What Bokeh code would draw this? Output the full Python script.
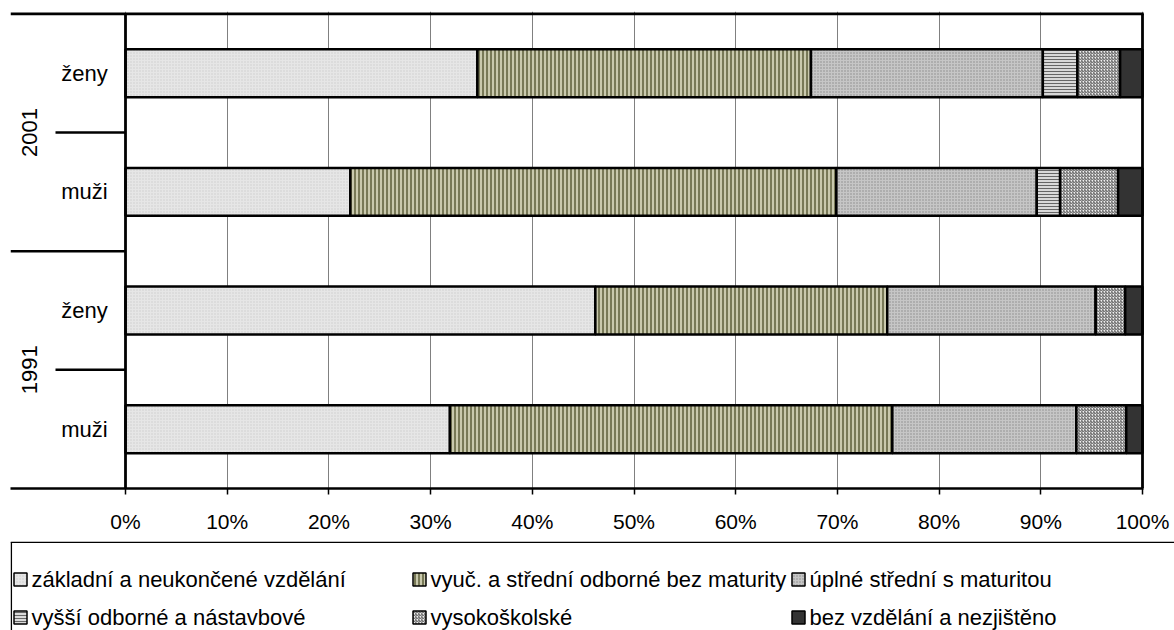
from bokeh.plotting import figure
from bokeh.layouts import column
from bokeh.models import Range1d, FixedTicker, PrintfTickFormatter
from bokeh.core.properties import value
from bokeh.embed import file_html
from bokeh.resources import INLINE
import math

# ---------------- data ----------------
rows = ["1991 muži", "1991 ženy", "2001 muži", "2001 ženy"]
row_sex = ["muži", "ženy", "muži", "ženy"]
years = ["1991", "2001"]
categories = ["základní a neukončené vzdělání",
              "vyuč. a střední odborné bez maturity",
              "úplné střední s maturitou",
              "vyšší odborné a nástavbové",
              "vysokoškolské",
              "bez vzdělání a nezjištěno"]
zakladni = [31.9, 46.2, 22.1, 34.6]
vyuc = [43.5, 28.7, 47.8, 32.8]
uplne = [18.1, 20.5, 19.7, 22.8]
vyssi = [0.0, 0.0, 2.3, 3.4]
vysokoskolske = [4.9, 2.9, 5.7, 4.2]
bez = [1.6, 1.7, 2.4, 2.2]
series = [zakladni, vyuc, uplne, vyssi, vysokoskolske, bez]
tick_values = list(range(0, 101, 10))

# ---------------- styles ----------------
styles = [
    dict(fill_color="#e6e6e6", hatch_pattern="dot", hatch_color="#cdcdcd", hatch_scale=3, hatch_weight=1),
    dict(fill_color="#c9c9ad", hatch_pattern="vertical_line", hatch_color="#5d5f3a", hatch_scale=4, hatch_weight=1.5),
    dict(fill_color="#c6c6c6", hatch_pattern="dot", hatch_color="#8a8a8a", hatch_scale=3, hatch_weight=1),
    dict(fill_color="#d9d9d9", hatch_pattern="horizontal_line", hatch_color="#666666", hatch_scale=3, hatch_weight=1),
    dict(fill_color="#f0f0f0", hatch_pattern="right_diagonal_line", hatch_color="#555555", hatch_scale=3, hatch_weight=1),
    dict(fill_color="#333333"),
]
FONT = value("Liberation Sans")

W = 1174
PX = 1017 / 100.0          # pixels per percent
XL = -115 / PX             # left edge of frame (label area)
XR = 100 + 32 / PX         # right edge of frame (page edge)

p = figure(width=W, height=541, output_backend="svg", toolbar_location=None,
           x_range=Range1d(XL, XR), y_range=Range1d(0, 4.02),
           y_axis_location=None, min_border_left=10, min_border_right=0,
           min_border_top=11, min_border_bottom=53)
p.outline_line_color = None
p.background_fill_color = "white"
p.ygrid.visible = False
p.xgrid.ticker = FixedTicker(ticks=tick_values)
p.xgrid.grid_line_color = "#808080"
p.xgrid.grid_line_width = 1

ax = p.xaxis[0]
ax.ticker = FixedTicker(ticks=tick_values)
ax.bounds = (XL, 100.12)
ax.formatter = PrintfTickFormatter(format="%d%%")
ax.axis_line_color = "black"
ax.axis_line_width = 2.5
ax.major_tick_line_color = "black"
ax.major_tick_line_width = 1.5
ax.major_tick_in = 0
ax.major_tick_out = 6
ax.minor_tick_line_color = None
ax.major_label_text_font = "Liberation Sans"
ax.major_label_text_font_size = "21px"
ax.major_label_text_color = "black"
ax.major_label_standoff = 15

ys = [0.5, 1.5, 2.5, 3.5]
left = [0.0] * 4
for vals, st in zip(series, styles):
    right = [l + v for l, v in zip(left, vals)]
    p.hbar(y=ys, left=left, right=right, height=0.404,
           line_color="black", line_width=2.5, **st)
    left = right

# frame lines
p.segment(x0=[0, 100, XL], y0=[0, 0, 4], x1=[0, 100, 100.12], y1=[4, 4, 4],
          line_color="black", line_width=2.8)
sep_x = (55 - 125) / PX
p.segment(x0=[sep_x, XL, sep_x], y0=[1, 2, 3], x1=[0, 0, 0], y1=[1, 2, 3],
          line_color="black", line_width=2.5)

# category labels
p.text(x=[-1.75] * 4, y=ys, text=row_sex, text_align="right", text_baseline="middle",
       text_font=FONT, text_font_size="22px", text_color="black")
p.text(x=[-9.45] * 2, y=[1.0, 3.0], text=years, angle=math.pi / 2,
       text_align="center", text_baseline="middle",
       text_font=FONT, text_font_size="22px", text_color="black")

# ---------------- legend ----------------
LH = 89
lg = figure(width=W, height=LH, output_backend="svg", toolbar_location=None,
            x_range=Range1d(10, W), y_range=Range1d(0, LH),
            x_axis_location=None, y_axis_location=None,
            min_border_left=10, min_border_right=0,
            min_border_top=0, min_border_bottom=0)
lg.outline_line_color = None
lg.xgrid.visible = False
lg.ygrid.visible = False
lg.segment(x0=[10, 10.8], y0=[88.3, 0], x1=[W, 10.8], y1=[88.3, 88.3],
           line_color="black", line_width=1.5)
col_x = [13, 412, 791]
row_y = [51, 13]
for i, (name, st) in enumerate(zip(categories, styles)):
    cx = col_x[i % 3]
    cy = row_y[i // 3]
    lg.rect(x=[cx + 7], y=[cy], width=13, height=13, width_units="screen",
            height_units="screen", line_color="black", line_width=1.5, **st)
    lg.text(x=[cx + 18], y=[cy], text=[name], text_align="left", text_baseline="middle",
            text_font=FONT, text_font_size="22px", text_color="black")

layout = column(p, lg, spacing=0)
open("out.html", "w").write(file_html(layout, INLINE))
